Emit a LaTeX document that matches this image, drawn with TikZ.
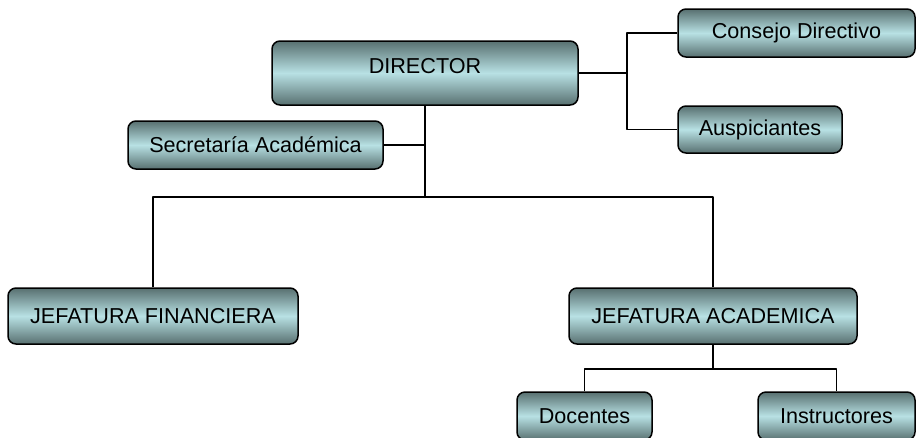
\documentclass[tikz,border=0pt]{standalone}
\usepackage{fontspec}
\setmainfont{Liberation Sans}
\definecolor{cajaosc}{RGB}{88,112,112}
\definecolor{cajacla}{RGB}{184,225,228}
\begin{document}
\begin{tikzpicture}[x=1pt, y=-1pt, font=\fontsize{21.6}{25}\selectfont, line join=round,
	caja/.style={draw, line width=1.5pt, rounded corners=8pt, inner sep=0pt, top color=cajaosc, bottom color=cajaosc, middle color=cajacla},
	linea/.style={line width=1.5pt},
	grueso/.style={line width=2.3pt}]
	\useasboundingbox (0,0) rectangle (917,437);
	\node[caja, minimum width=306pt, minimum height=64pt, text depth=14pt] (dir) at (425,73) {DIRECTOR};
	\node[caja, minimum width=237pt, minimum height=48pt] (consejo) at (796.5,33) {Consejo Directivo};
	\node[caja, minimum width=164pt, minimum height=47pt] (ausp) at (760,129.5) {Auspiciantes};
	\node[caja, minimum width=255pt, minimum height=48pt] (secr) at (255.5,145) {Secretaría Académica};
	\node[caja, minimum width=290pt, minimum height=56pt] (jfin) at (153,316) {JEFATURA FINANCIERA};
	\node[caja, minimum width=288pt, minimum height=56pt] (jac) at (713,316) {JEFATURA ACADEMICA};
	\node[caja, minimum width=135pt, minimum height=48pt] (doc) at (584.5,416) {Docentes};
	\node[caja, minimum width=157pt, minimum height=48pt] (inst) at (836.5,416) {Instructores};
	\coordinate (rama) at (627,73);
	\coordinate (bus) at (425,197);
	\coordinate (sub) at (713,369);
	\draw[grueso] (dir.east) -- (rama);
	\draw[linea] (consejo.west) -| (rama) |- (ausp.west);
	\draw[grueso] (dir.south) -- (bus);
	\draw[linea] (secr.east) -- (secr.east -| bus);
	\draw[linea] (jfin.north) |- (bus) -| (jac.north);
	\draw[linea] (jac.south) -- (sub);
	\draw[linea] (doc.north) |- (sub) -| (inst.north);
\end{tikzpicture}
\end{document}
